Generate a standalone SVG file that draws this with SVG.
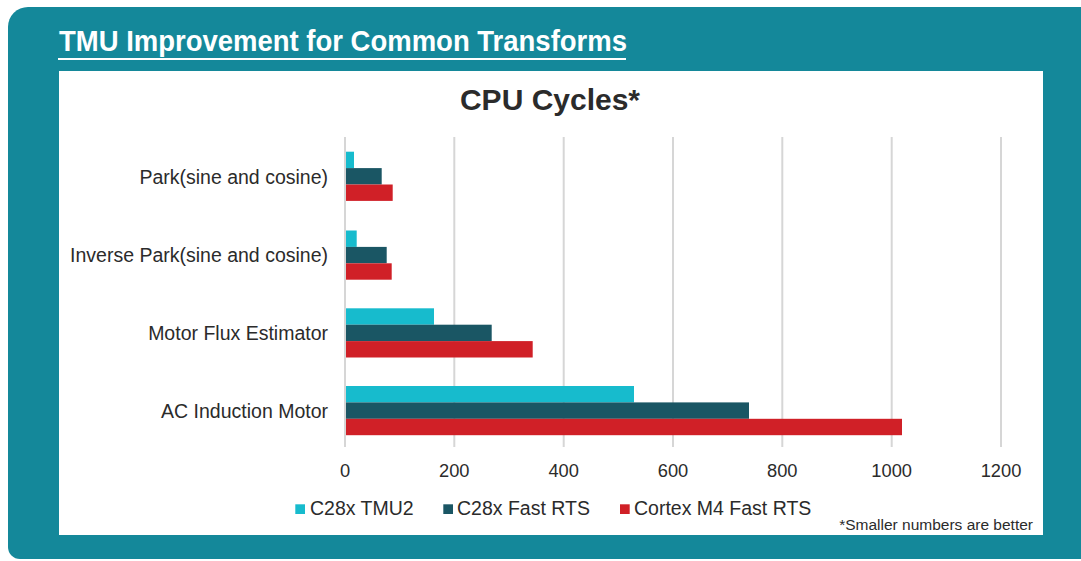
<svg xmlns="http://www.w3.org/2000/svg" width="1081" height="561" viewBox="0 0 1081 561">
<style>
.t{font-family:"Liberation Sans",Arial,sans-serif;fill:#2b2b2b}
.cat{font-size:19.5px;text-anchor:end}
.tick{font-size:18.3px;text-anchor:middle}
.leg{font-size:19.5px}
.grid{stroke:#d6d6d6;stroke-width:2}
.c1{fill:#17bbcd}
.c2{fill:#1a5664}
.c3{fill:#d02027}
</style>
<rect x="0" y="0" width="1081" height="561" fill="#ffffff"/>
<path d="M28,7 H1081 V559 H20 A12,12 0 0 1 8,547 V27 A20,20 0 0 1 28,7 Z" fill="#14889a"/>
<g id="title">
<text x="59" y="51" font-family="'Liberation Sans',Arial,sans-serif" font-weight="bold" font-size="29.5" fill="#ffffff" textLength="568" lengthAdjust="spacingAndGlyphs">TMU Improvement for Common Transforms</text>
<line x1="58" y1="59" x2="626" y2="59" stroke="#ffffff" stroke-width="2"/>
</g>
<rect id="panel" x="59" y="71" width="984" height="464" fill="#ffffff"/>
<text id="chart-title" class="t" x="550" y="110" font-size="30" font-weight="bold" text-anchor="middle" fill="#1e1e1e">CPU Cycles*</text>
<g id="grid">
<line class="grid" x1="345" y1="137" x2="345" y2="447"/>
<line class="grid" x1="454.3" y1="137" x2="454.3" y2="447"/>
<line class="grid" x1="563.7" y1="137" x2="563.7" y2="447"/>
<line class="grid" x1="673" y1="137" x2="673" y2="447"/>
<line class="grid" x1="782.3" y1="137" x2="782.3" y2="447"/>
<line class="grid" x1="891.7" y1="137" x2="891.7" y2="447"/>
<line class="grid" x1="1001" y1="137" x2="1001" y2="447"/>
</g>
<g id="ticks">
<text class="t tick" x="345" y="477">0</text>
<text class="t tick" x="454.3" y="477">200</text>
<text class="t tick" x="563.7" y="477">400</text>
<text class="t tick" x="673" y="477">600</text>
<text class="t tick" x="782.3" y="477">800</text>
<text class="t tick" x="891.7" y="477">1000</text>
<text class="t tick" x="1001" y="477">1200</text>
</g>
<g id="cat-park">
<text class="t cat" x="328" y="183.5">Park(sine and cosine)</text>
<rect class="c1" x="346" y="151.7" width="8" height="16.4"/>
<rect class="c2" x="346" y="168.1" width="35.7" height="16.4"/>
<rect class="c3" x="346" y="184.5" width="46.7" height="16.4"/>
</g>
<g id="cat-invpark">
<text class="t cat" x="328" y="261.7">Inverse Park(sine and cosine)</text>
<rect class="c1" x="346" y="230.5" width="10.7" height="16.4"/>
<rect class="c2" x="346" y="246.9" width="40.7" height="16.4"/>
<rect class="c3" x="346" y="263.3" width="45.7" height="16.4"/>
</g>
<g id="cat-flux">
<text class="t cat" x="328" y="340">Motor Flux Estimator</text>
<rect class="c1" x="346" y="308.3" width="88" height="16.4"/>
<rect class="c2" x="346" y="324.7" width="145.7" height="16.4"/>
<rect class="c3" x="346" y="341.1" width="186.7" height="16.4"/>
</g>
<g id="cat-acim">
<text class="t cat" x="328" y="417.5">AC Induction Motor</text>
<rect class="c1" x="346" y="386" width="288" height="16.4"/>
<rect class="c2" x="346" y="402.4" width="403" height="16.4"/>
<rect class="c3" x="346" y="418.8" width="556" height="16.4"/>
</g>
<g id="legend">
<rect class="c1" x="295.3" y="504.3" width="9.7" height="9.7"/>
<text class="t leg" x="310" y="515.3">C28x TMU2</text>
<rect class="c2" x="443.3" y="504.3" width="9.7" height="9.7"/>
<text class="t leg" x="457" y="515.3">C28x Fast RTS</text>
<rect class="c3" x="620" y="504.3" width="9.7" height="9.7"/>
<text class="t leg" x="634" y="515.3">Cortex M4 Fast RTS</text>
</g>
<text id="note" class="t" x="1033" y="530" font-size="15.5" text-anchor="end">*Smaller numbers are better</text>
</svg>
